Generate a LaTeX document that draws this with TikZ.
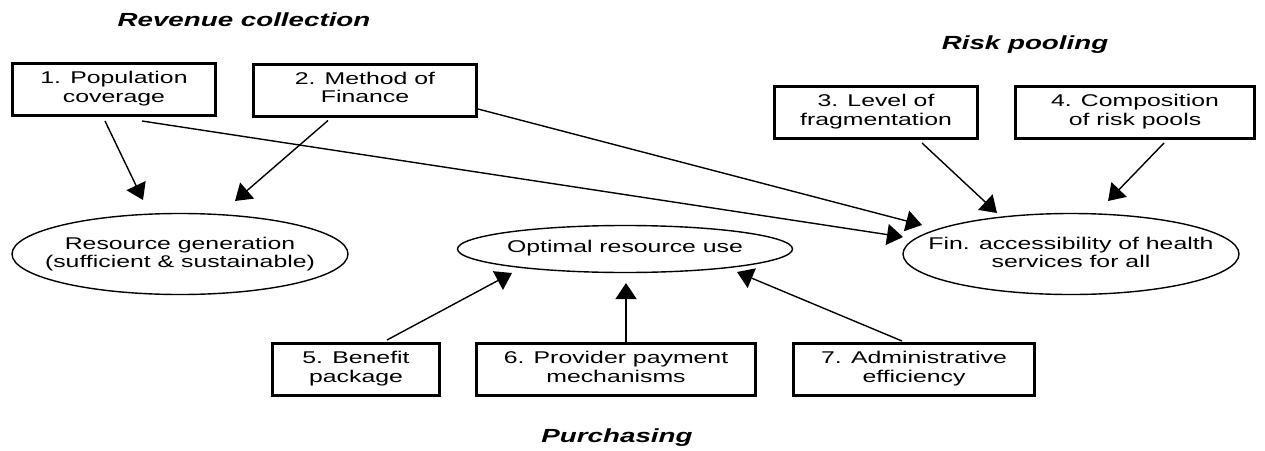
\documentclass[tikz,border=0pt]{standalone}
\usepackage{fontspec}
\setmainfont{Liberation Sans}
\usepackage{graphicx}
\usetikzlibrary{arrows.meta}

% text set a little wider than the font's own proportions
\newcommand\widetext[1]{\scalebox{1.46}[1]{\begin{tabular}{@{}c@{}}#1\end{tabular}}}

\tikzset{
  factor/.style={draw, line width=3pt, minimum width=#1, minimum height=52pt,
    inner sep=0pt, font=\fontsize{17}{18.5}\selectfont},
  goal/.style={inner sep=0pt, font=\fontsize{17}{18.5}\selectfont},
  goalrim/.style={line width=1.4pt},
  heading/.style={inner sep=0pt, font=\fontsize{19}{22}\selectfont\bfseries\itshape},
  arr/.style={line width=1.4pt, -{Triangle[length=16pt,width=21pt]}},
}

\begin{document}
\begin{tikzpicture}[x=1pt,y=-1pt]
\useasboundingbox (0,0) rectangle (1265,450);

% function headings
\node[heading] (hrev) at (244,22) {\widetext{Revenue collection}};
\node[heading] (hrisk) at (1025,45) {\widetext{Risk pooling}};
\node[heading] (hpur) at (617,438) {\widetext{Purchasing}};

% policy levers
\node[factor=203pt] (b1) at (114,89.5) {\widetext{1. Population\\coverage}};
\node[factor=223pt] (b2) at (365,90) {\widetext{2. Method of\\Finance}};
\node[factor=203pt] (b3) at (876,112.5) {\widetext{3. Level of\\fragmentation}};
\node[factor=239pt] (b4) at (1135,112.5) {\widetext{4. Composition\\of risk pools}};
\node[factor=167pt] (b5) at (356,369.5) {\widetext{5. Benefit\\package}};
\node[factor=279pt] (b6) at (616,369.5) {\widetext{6. Provider payment\\mechanisms}};
\node[factor=241pt] (b7) at (914,369.5) {\widetext{7. Administrative\\efficiency}};

% objectives
\node[goal] (rg) at (180,255) {\widetext{Resource generation\\(sufficient \& sustainable)}};
\node[goal] (opt) at (625,249) {\widetext{Optimal resource use}};
\node[goal] (fin) at (1071,255) {\widetext{Fin. accessibility of health\\services for all}};
\draw[goalrim] (rg.center) ++(0,-1) ellipse [x radius=168, y radius=40.5];
\draw[goalrim] (opt.center) ellipse [x radius=167.5, y radius=23.5];
\draw[goalrim] (fin.center) ++(0,-1) ellipse [x radius=168, y radius=40.5];

% arrow tips, just short of the objectives
\coordinate (rgA) at (143,200);
\coordinate (rgB) at (235,201);
\coordinate (finA) at (903,237);
\coordinate (finB) at (922,225);
\coordinate (finC) at (997,213);
\coordinate (finD) at (1108,201);
\coordinate (optA) at (512,273);
\coordinate (optB) at (626,283);
\coordinate (optC) at (737,272);

% links
\draw[arr] ([xshift=-9pt,yshift=-4pt]b1.south) -- (rgA);
\draw[arr] ([xshift=-37pt,yshift=-3pt]b2.south) -- (rgB);
\draw[arr] ([xshift=28pt,yshift=-4pt]b1.south) -- (finA);
\draw[arr] ([yshift=-19pt]b2.east) -- (finB);
\draw[arr] ([xshift=46pt,yshift=-3pt]b3.south) -- (finC);
\draw[arr] ([xshift=29pt,yshift=-3pt]b4.south) -- (finD);
\draw[arr] ([xshift=31pt,yshift=2pt]b5.north) -- (optA);
\draw[arr] ([xshift=10pt]b6.north) -- (optB);
\draw[arr] ([xshift=-12pt,yshift=1pt]b7.north) -- (optC);
\end{tikzpicture}
\end{document}
